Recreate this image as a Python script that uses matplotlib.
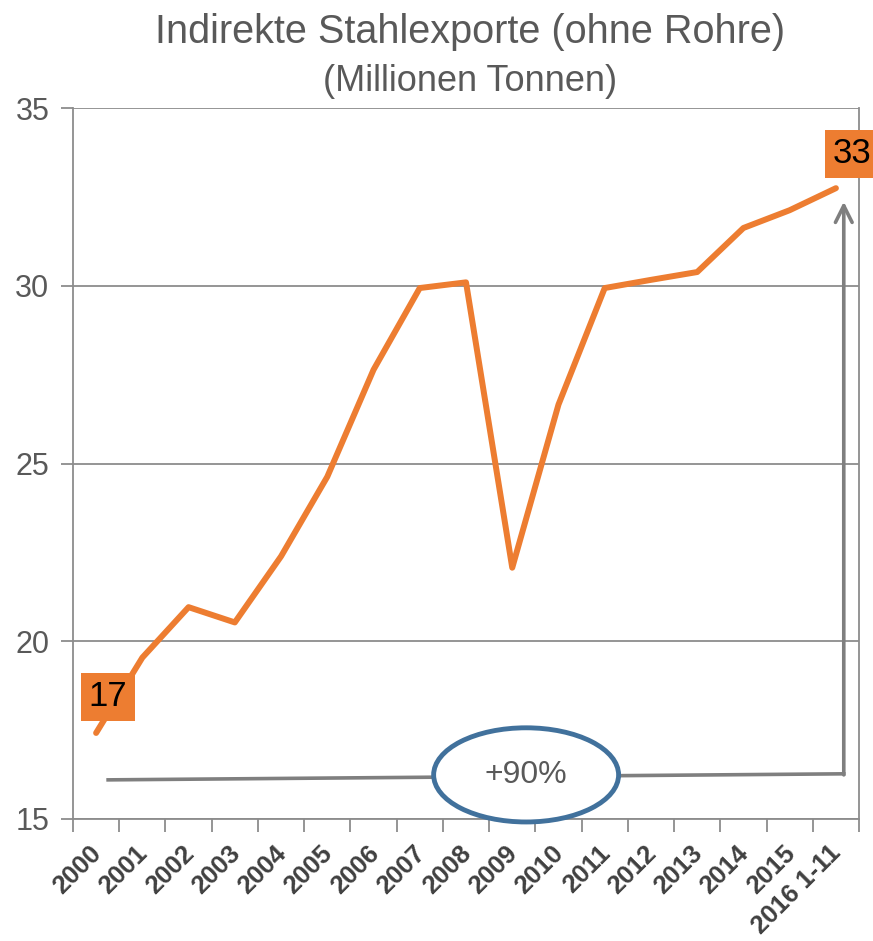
import matplotlib
matplotlib.use("Agg")
import matplotlib.pyplot as plt
from matplotlib.patches import Ellipse
from matplotlib.transforms import ScaledTranslation
import numpy as np

years = ['2000', '2001', '2002', '2003', '2004', '2005', '2006', '2007', '2008',
         '2009', '2010', '2011', '2012', '2013', '2014', '2015', '2016 1-11']
exports = [17.42, 19.54, 20.96, 20.53, 22.39, 24.63, 27.64, 29.94, 30.10,
           22.07, 26.66, 29.94, 30.17, 30.39, 31.63, 32.13, 32.75]
first_label = '17'
last_label = '33'
growth_label = '+90%'

ORANGE = '#ED7D31'
GRAY = '#595959'
GRID = '#8C8C8C'

plt.rcParams['font.family'] = ['Liberation Sans', 'DejaVu Sans']

fig = plt.figure(figsize=(8.73, 9.41), dpi=100)
ax = fig.add_axes([0.0836, 0.1297, 0.9004, 0.7553])

x = np.arange(len(years))
ax.plot(x, exports, color=ORANGE, lw=4.3, solid_capstyle='round',
        solid_joinstyle='round', zorder=3)

ax.set_xlim(-0.5, len(years) - 0.5)
ax.set_ylim(15, 35)
ax.set_yticks([15, 20, 25, 30, 35])
ax.yaxis.grid(True, color=GRID, lw=1.3)
ax.set_axisbelow(True)
for s in ax.spines.values():
    s.set_color(GRID)
    s.set_linewidth(1.3)
ax.spines['top'].set_visible(False)

ax.set_xticks(np.arange(len(years) + 1) - 0.5)
ax.set_xticklabels([])
ax.set_xticks(x, minor=True)
ax.set_xticklabels(years, minor=True, rotation=45, ha='right', va='top',
                   rotation_mode='anchor', fontsize=18.5, fontweight='bold',
                   color='#404040')
ax.tick_params(axis='x', which='major', length=9, color=GRID, width=1.3)
ax.tick_params(axis='x', which='minor', length=0, pad=10)
ax.tick_params(axis='y', length=9, color=GRID, width=1.3, labelsize=22,
               labelcolor=GRAY, pad=8)
shift = ScaledTranslation(-7 / 100, -8 / 100, fig.dpi_scale_trans)
for lab in ax.get_xticklabels(minor=True):
    lab.set_transform(lab.get_transform() + shift)

# growth arrow
y_base_l = 16.10
y_base_r = 16.27
x_l = 0.26
x_r = len(years) - 1 + 0.17
ax.plot([x_l, x_r], [y_base_l, y_base_r], color='#7F7F7F', lw=2.6, zorder=2)
ax.annotate('', xy=(x_r, exports[-1] - 0.38), xytext=(x_r, y_base_r - 0.03),
            arrowprops=dict(arrowstyle='->', color='#7F7F7F', lw=2.6,
                            mutation_scale=30, shrinkA=0, shrinkB=0), zorder=2)

ell = Ellipse((9.3, 16.24), 4.0, 2.65, facecolor='white', edgecolor='#41719C',
              lw=3.5, zorder=4, clip_on=False)
ax.add_patch(ell)
ax.text(9.3, 16.24, growth_label, ha='center', va='center', fontsize=23,
        color=GRAY, zorder=5)

box = dict(boxstyle='square,pad=0.22', facecolor=ORANGE, edgecolor='none')
ax.text(0.25, 18.44, first_label, ha='center', va='center', fontsize=25,
        color='black', bbox=box, zorder=5)
ax.text(16.35, 33.72, last_label, ha='center', va='center', fontsize=25,
        color='black', bbox=box, zorder=5, clip_on=False)

fig.text(0.539, 0.986, 'Indirekte Stahlexporte (ohne Rohre)', ha='center',
         va='top', fontsize=28.5, color=GRAY)
fig.text(0.539, 0.932, '(Millionen Tonnen)', ha='center', va='top',
         fontsize=26, color=GRAY)

fig.savefig('out.png', dpi=100)
